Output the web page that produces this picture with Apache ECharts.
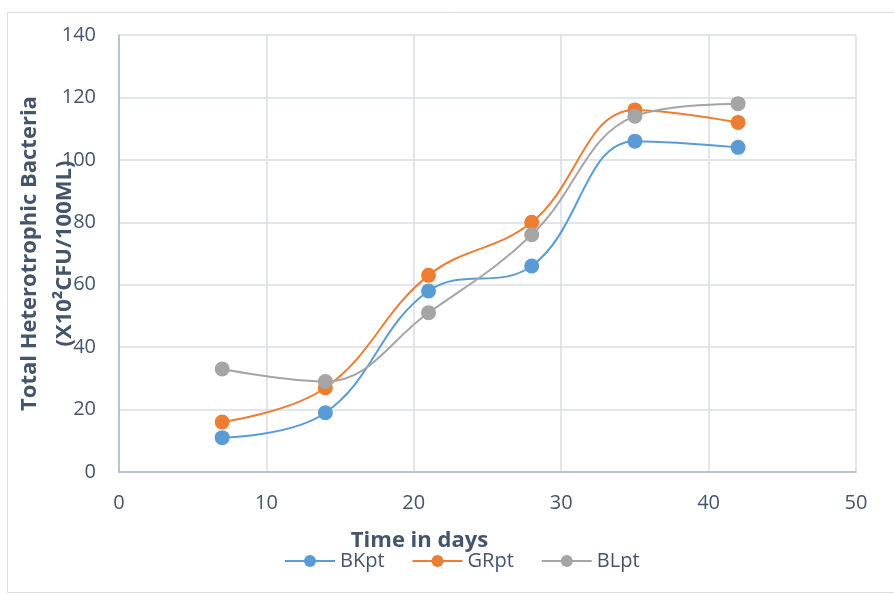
<!DOCTYPE html>
<html><head><meta charset="utf-8">
<script src="https://cdn.jsdelivr.net/npm/echarts@6/dist/echarts.min.js"></script>
<style>html,body{margin:0;padding:0;background:#fff}#c{width:894px;height:595px}</style>
</head><body><div id="c"></div>
<script>
const days = [7, 14, 21, 28, 35, 42];
const BKpt = [11, 19, 58, 66, 106, 104];
const GRpt = [16, 27, 63, 80, 116, 112];
const BLpt = [33, 29, 51, 76, 114, 118];
const seriesNames = ['BKpt', 'GRpt', 'BLpt'];
const colors = ['#5b9bd5', '#ed7d31', '#a5a5a5'];
const xTitle = 'Time in days';
const yTitle = 'Total Heterotrophic Bacteria\n(X10²CFU/100ML)';

const chart = echarts.init(document.getElementById('c'));
const font = '"Open Sans", sans-serif';
const txt = '#44546a';
function mk(name, vals, color){
  return {
    name, type: 'line', smooth: 0.4,
    data: days.map((d,i)=>[d, vals[i]]),
    symbol: 'circle', symbolSize: 15,
    lineStyle: {color, width: 2},
    itemStyle: {color},
    z: 3
  };
}
chart.setOption({
  animation: false,
  graphic: [{type:'rect', shape:{x:7.5,y:12.5,width:900,height:580}, style:{fill:'none', stroke:'#d9dde4', lineWidth:1}, z:-1}],
  grid: {left:119, right:38, top:35, bottom:123, containLabel:false, outerBoundsMode:'none'},
  xAxis: {
    type:'value', min:0, max:50, interval:10,
    axisLine:{show:true, lineStyle:{color:'#adb9ca', width:1.5}},
    axisTick:{show:false},
    splitLine:{show:true, lineStyle:{color:'#d9dee6', width:1.5}},
    axisLabel:{color:txt, fontSize:20, fontFamily:font, margin:21},
    name: xTitle, nameLocation:'middle', nameGap:58, nameMoveOverlap:false,
    nameTextStyle:{color:txt, fontSize:22, fontWeight:'bold', fontFamily:font, padding:[0,0,0,-136]}
  },
  yAxis: {
    type:'value', min:0, max:140, interval:20,
    axisLine:{show:true, lineStyle:{color:'#adb9ca', width:1.5}},
    axisTick:{show:false},
    splitLine:{show:true, lineStyle:{color:'#d9dee6', width:1.5}},
    axisLabel:{color:txt, fontSize:20, fontFamily:font, margin:23},
    name: yTitle, nameLocation:'middle', nameGap:37, nameMoveOverlap:false,
    nameTextStyle:{color:txt, fontSize:22, fontWeight:'bold', fontFamily:font, lineHeight:35}
  },
  legend: {
    data: seriesNames, top: 546, left: 279,
    itemWidth: 50, itemHeight: 15, itemGap: 27,
    textStyle:{color:txt, fontSize:20, fontFamily:font}
  },
  series: [mk('BKpt', BKpt, colors[0]), mk('GRpt', GRpt, colors[1]), mk('BLpt', BLpt, colors[2])]
});
</script>
</body></html>
